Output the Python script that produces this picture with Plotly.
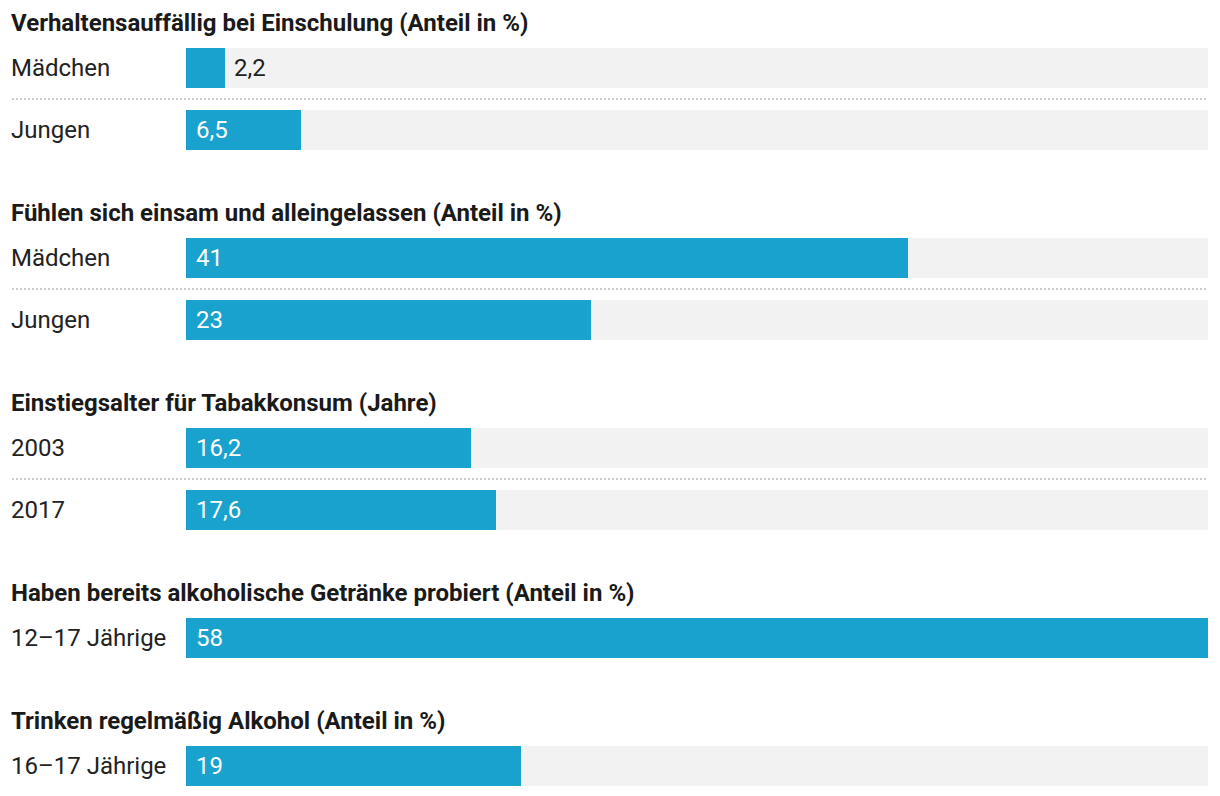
import plotly.graph_objects as go

# ---- data ----
group_titles = [
    "Verhaltensauffällig bei Einschulung (Anteil in %)",
    "Fühlen sich einsam und alleingelassen (Anteil in %)",
    "Einstiegsalter für Tabakkonsum (Jahre)",
    "Haben bereits alkoholische Getränke probiert (Anteil in %)",
    "Trinken regelmäßig Alkohol (Anteil in %)",
]
group_labels = [
    ["Mädchen", "Jungen"],
    ["Mädchen", "Jungen"],
    ["2003", "2017"],
    ["12–17 Jährige"],
    ["16–17 Jährige"],
]
group_values = [
    [2.2, 6.5],
    [41, 23],
    [16.2, 17.6],
    [58],
    [19],
]

# ---- layout constants ----
W, H = 1220, 796
X0, X1 = 186, 1208
LEFT = 12
BAR_H = 40
ROW_STEP = 62
TITLE_TO_BAR = 45
BAR_TO_TITLE = 83
FIRST_TITLE = 23
BAR_COLOR = "#19a2cd"
BG_COLOR = "#f2f2f2"
TEXT_COLOR = "#222222"
FONT = "Roboto"
FS = 24

xmax = max(v for g in group_values for v in g)

def fmt(v):
    return f"{v:g}".replace(".", ",")

ys, vals, labels, titles_y, seps = [], [], [], [], []
y = FIRST_TITLE
for gi, (t, labs, vs) in enumerate(zip(group_titles, group_labels, group_values)):
    titles_y.append(y)
    yb = y + TITLE_TO_BAR
    for ri, (lab, v) in enumerate(zip(labs, vs)):
        if ri > 0:
            seps.append(yb - ROW_STEP / 2)
        ys.append(yb)
        vals.append(v)
        labels.append(lab)
        last = yb
        yb += ROW_STEP
    y = last + BAR_TO_TITLE

fig = go.Figure()
fig.add_trace(go.Bar(
    x=[xmax] * len(ys), y=ys, orientation="h", width=BAR_H,
    marker=dict(color=BG_COLOR, line=dict(width=0)), hoverinfo="skip", showlegend=False,
))
fig.add_trace(go.Bar(
    x=vals, y=ys, orientation="h", width=BAR_H,
    marker=dict(color=BAR_COLOR, line=dict(width=0)), showlegend=False,
))

ann = []
for t, ty in zip(group_titles, titles_y):
    ann.append(dict(text=f"<b>{t}</b>", x=LEFT / W, xref="paper", xanchor="left", xshift=-3,
                    y=ty, yref="y", yanchor="middle", showarrow=False,
                    font=dict(family=FONT, size=FS, color="#1a1a1a")))
px_per_unit = (X1 - X0) / xmax
for lab, v, yy in zip(labels, vals, ys):
    ann.append(dict(text=lab, x=LEFT / W, xref="paper", xanchor="left", xshift=-3,
                    y=yy, yref="y", yanchor="middle", showarrow=False,
                    font=dict(family=FONT, size=FS, color=TEXT_COLOR)))
    inside = v * px_per_unit > 70
    if inside:
        ann.append(dict(text=fmt(v), x=0, xref="x", xanchor="left", xshift=8,
                        y=yy, yref="y", yanchor="middle", showarrow=False,
                        font=dict(family=FONT, size=FS, color="white")))
    else:
        ann.append(dict(text=fmt(v), x=v, xref="x", xanchor="left", xshift=7,
                        y=yy, yref="y", yanchor="middle", showarrow=False,
                        font=dict(family=FONT, size=FS, color=TEXT_COLOR)))

shapes = []
for sy in seps:
    shapes.append(dict(type="line", xref="paper", yref="y", x0=LEFT / W, x1=X1 / W,
                       y0=sy, y1=sy, line=dict(color="#cccccc", width=2, dash="2px,2px")))

fig.update_layout(
    width=W, height=H, margin=dict(l=0, r=0, t=0, b=0),
    paper_bgcolor="white", plot_bgcolor="white",
    barmode="overlay", bargap=0,
    xaxis=dict(domain=[X0 / W, X1 / W], range=[0, xmax], visible=False, fixedrange=True),
    yaxis=dict(domain=[0, 1], range=[H, 0], visible=False, fixedrange=True),
    annotations=ann, shapes=shapes,
    font=dict(family=FONT),
)
fig.write_html("out.html")
